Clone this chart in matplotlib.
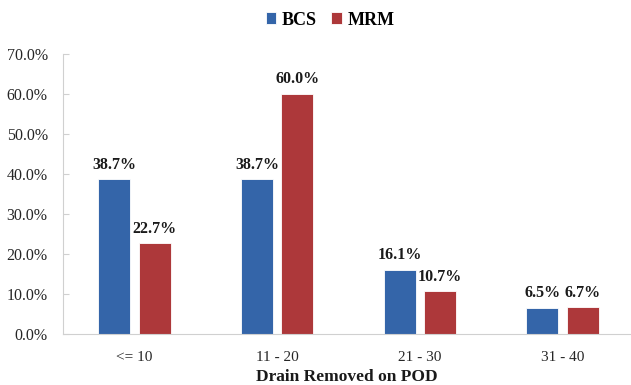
import matplotlib.pyplot as plt
import numpy as np

plt.rcParams['font.family'] = ['Liberation Serif', 'DejaVu Serif']

categories = ['<= 10', '11 - 20', '21 - 30', '31 - 40']
bcs = [38.7, 38.7, 16.1, 6.5]
mrm = [22.7, 60.0, 10.7, 6.7]
series = [('BCS', bcs, '#3465a9'), ('MRM', mrm, '#ad383a')]

fig = plt.figure(figsize=(6.31, 3.85), dpi=100)
ax = fig.add_axes([0.0998, 0.1325, 0.9002, 0.7272])

x = np.arange(len(categories))
width = 0.224
offset = 0.142
for i, (name, vals, color) in enumerate(series):
    pos = x + (2 * i - 1) * offset
    bars = ax.bar(pos, vals, width, color=color, label=name,
                  edgecolor='white', linewidth=0.6)
    for b, v in zip(bars, vals):
        ax.annotate(f'{v:.1f}%', (b.get_x() + b.get_width() / 2, v),
                    xytext=(0, 10.5), textcoords='offset points',
                    ha='center', va='center', fontsize=11.5,
                    fontweight='bold', color='#1a1a1a')

ax.set_xlim(-0.5, 3.478)
ax.set_ylim(0, 70)
ax.set_yticks(np.arange(0, 71, 10))
ax.set_yticklabels([f'{t:.1f}%' for t in range(0, 71, 10)], fontsize=11.5,
                   color='#262626')
ax.set_xticks(x)
ax.set_xticklabels(categories, fontsize=11, color='#262626')
ax.tick_params(axis='x', length=0, pad=12)
ax.tick_params(axis='y', direction='in', length=4, color='#d0d0d0', pad=11)

for s in ['top', 'right']:
    ax.spines[s].set_visible(False)
for s in ['left', 'bottom']:
    ax.spines[s].set_color('#d0d0d0')

ax.set_xlabel('Drain Removed on POD', fontsize=12.5, fontweight='bold',
              labelpad=4, color='#1a1a1a')

fig.legend(loc='center', bbox_to_anchor=(0.523, 0.948), ncol=2,
           frameon=False, handlelength=0.6, handleheight=0.6,
           handletextpad=0.3, columnspacing=0.8,
           prop={'size': 13, 'weight': 'bold'})

fig.savefig('out.png', dpi=100)
